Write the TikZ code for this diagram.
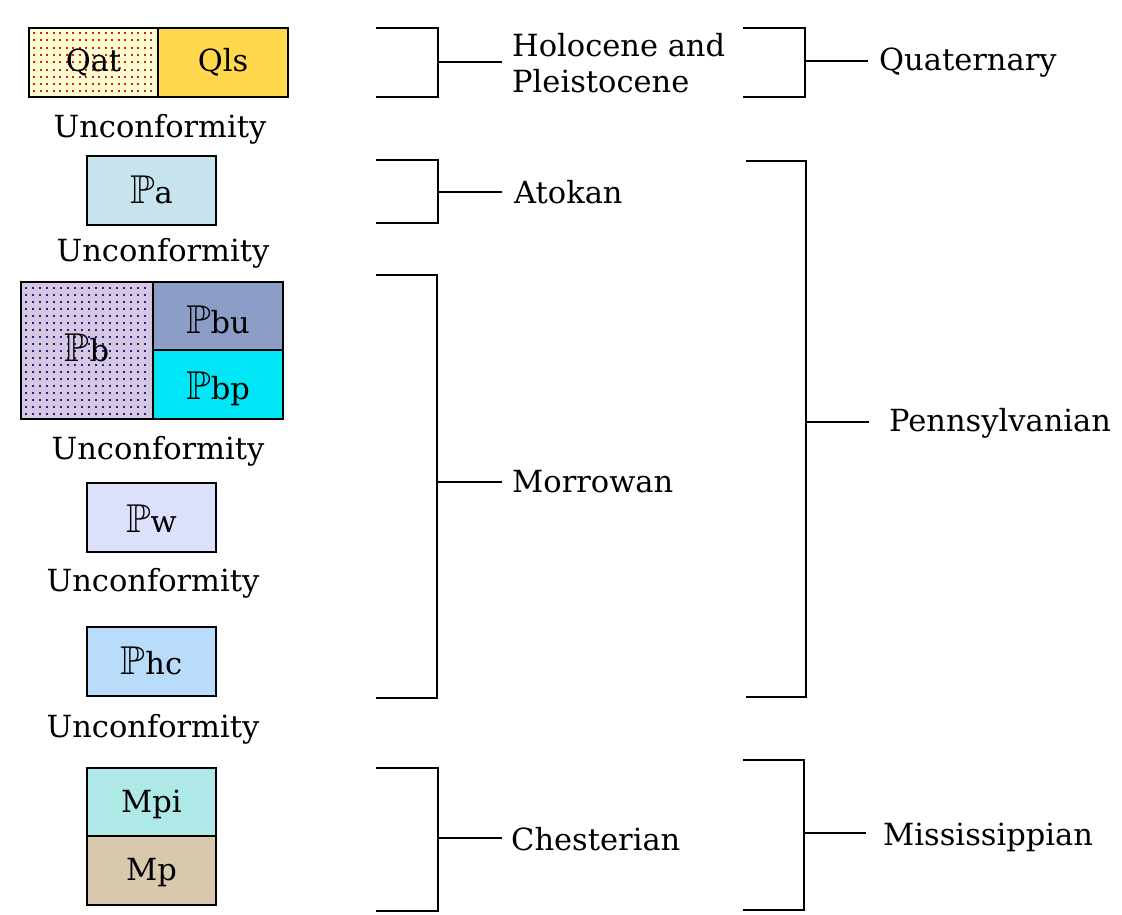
\documentclass[tikz,border=0pt]{standalone}
\usepackage{fontspec}
\setmainfont{DejaVu Serif}
\usepackage{amssymb}
\newcommand{\PP}{\scalebox{1.32}{$\mathbb{P}$}}
\definecolor{qatc}{HTML}{FFFDD2}
\definecolor{qdot}{HTML}{D42020}
\definecolor{qlsc}{HTML}{FFD84E}
\definecolor{pac}{HTML}{C6E3EE}
\definecolor{pbc}{HTML}{D6C8E2}
\definecolor{pdot}{HTML}{24208C}
\definecolor{pbuc}{HTML}{8C9DC8}
\definecolor{pbpc}{HTML}{00E6F6}
\definecolor{pwc}{HTML}{DCE0FA}
\definecolor{phcc}{HTML}{B8DCFA}
\definecolor{mpic}{HTML}{AEE9E8}
\definecolor{mpc}{HTML}{D8C8AE}
\tikzset{
  unitbox/.style={draw=black, line width=2.8pt, inner sep=0pt, outer sep=0pt, fill=#1, anchor=north west},
  lbl/.style={font=\fontsize{30.5}{36}\selectfont, inner sep=0pt, anchor=base},
  rlbl/.style={font=\fontsize{30.5}{36}\selectfont, inner sep=0pt, anchor=base west},
  brk/.style={draw=black, line width=2.8pt},
}
\begin{document}
\begin{tikzpicture}[x=1pt,y=-1pt]
\useasboundingbox (0,0) rectangle (1122,914);
% ---------------- boxes
\node[unitbox=qatc, minimum width=129pt, minimum height=69pt] (qat) at (29,28) {};
\begin{scope}
  \clip (31,30) rectangle (156,95);
  \foreach \i in {0,...,20} {\foreach \j in {0,...,10} {
    \fill[qdot] (33+6.5*\i, 32+7.3*\j) rectangle ++(2,2);}}
\end{scope}
\draw[line width=2.8pt] (29,28) rectangle (158,97);
\node[unitbox=qlsc, minimum width=130pt, minimum height=69pt] (qls) at (158,28) {};
\node[unitbox=pac, minimum width=129pt, minimum height=69pt] (pa) at (87,156) {};
\node[unitbox=pbc, minimum width=132pt, minimum height=137pt] (pb) at (21,282) {};
\begin{scope}
  \clip (23,284) rectangle (151,417);
  \foreach \i in {0,...,19} {\foreach \j in {0,...,19} {
    \fill[pdot] (25+7*\i, 287+7*\j) rectangle ++(1.8,1.8);}}
\end{scope}
\draw[line width=2.8pt] (21,282) rectangle (153,419);
\node[unitbox=pbuc, minimum width=130pt, minimum height=68pt] (pbu) at (153,282) {};
\node[unitbox=pbpc, minimum width=130pt, minimum height=69pt] (pbp) at (153,350) {};
\node[unitbox=pwc, minimum width=129pt, minimum height=69pt] (pw) at (87,483) {};
\node[unitbox=phcc, minimum width=129pt, minimum height=69pt] (phc) at (87,627) {};
\node[unitbox=mpic, minimum width=129pt, minimum height=68pt] (mpi) at (87,768) {};
\node[unitbox=mpc, minimum width=129pt, minimum height=69pt] (mp) at (87,836) {};
% box labels
\node[lbl] (tqat) at (93.5,71) {Qat};
\node[lbl] (tqls) at (223,71) {Qls};
\node[lbl] (tpa) at (151.5,203) {\PP a};
\node[lbl] (tpb) at (87,361) {\PP b};
\node[lbl] (tpbu) at (218,333) {\PP bu};
\node[lbl] (tpbp) at (218,399) {\PP bp};
\node[lbl] (tpw) at (151.5,532) {\PP w};
\node[lbl] (tphc) at (151.5,674) {\PP hc};
\node[lbl] (tmpi) at (151.5,812) {Mpi};
\node[lbl] (tmp) at (151.5,880) {Mp};
% unconformities
\node[lbl] (u1) at (160,137) {Unconformity};
\node[lbl] (u2) at (163,261) {Unconformity};
\node[lbl] (u3) at (158,459) {Unconformity};
\node[lbl] (u4) at (153,591) {Unconformity};
\node[lbl] (u5) at (153,737) {Unconformity};
% ---------------- labels right
\node[rlbl] (hol) at (512,56) {Holocene and};
\node[rlbl] (ple) at (512,92) {Pleistocene};
\node[rlbl] (ato) at (514,203) {Atokan};
\node[rlbl] (mor) at (512,492) {Morrowan};
\node[rlbl] (che) at (511,850) {Chesterian};
\node[rlbl] (qua) at (879,70) {Quaternary};
\node[rlbl] (pen) at (889,431) {Pennsylvanian};
\node[rlbl] (mis) at (883,845) {Mississippian};
% ---------------- brackets
\coordinate (hT) at (376,28);  \coordinate (hB) at (376,97);
\coordinate (hM) at (438,62);  \coordinate (hE) at (502,62);
\coordinate (aT) at (376,160); \coordinate (aB) at (376,223);
\coordinate (aM) at (438,192); \coordinate (aE) at (502,192);
\coordinate (mT) at (376,275); \coordinate (mB) at (376,698);
\coordinate (mM) at (437,482); \coordinate (mE) at (502,482);
\coordinate (cT) at (376,768); \coordinate (cB) at (376,911);
\coordinate (cM) at (438,838); \coordinate (cE) at (502,838);
\coordinate (qT) at (743,28);  \coordinate (qB) at (743,97);
\coordinate (qM) at (805,61);  \coordinate (qE) at (868,61);
\coordinate (pT) at (746,161); \coordinate (pB) at (746,697);
\coordinate (pM) at (806,422); \coordinate (pE) at (869,422);
\coordinate (sT) at (743,760); \coordinate (sB) at (743,910);
\coordinate (sM) at (804,833); \coordinate (sE) at (866,833);
\foreach \b in {h,a,m,c,q,p,s} {
  \draw[brk] (\b T) -| (\b M) |- (\b B);
  \draw[brk] (\b M) -- (\b E);
}
\end{tikzpicture}
\end{document}
